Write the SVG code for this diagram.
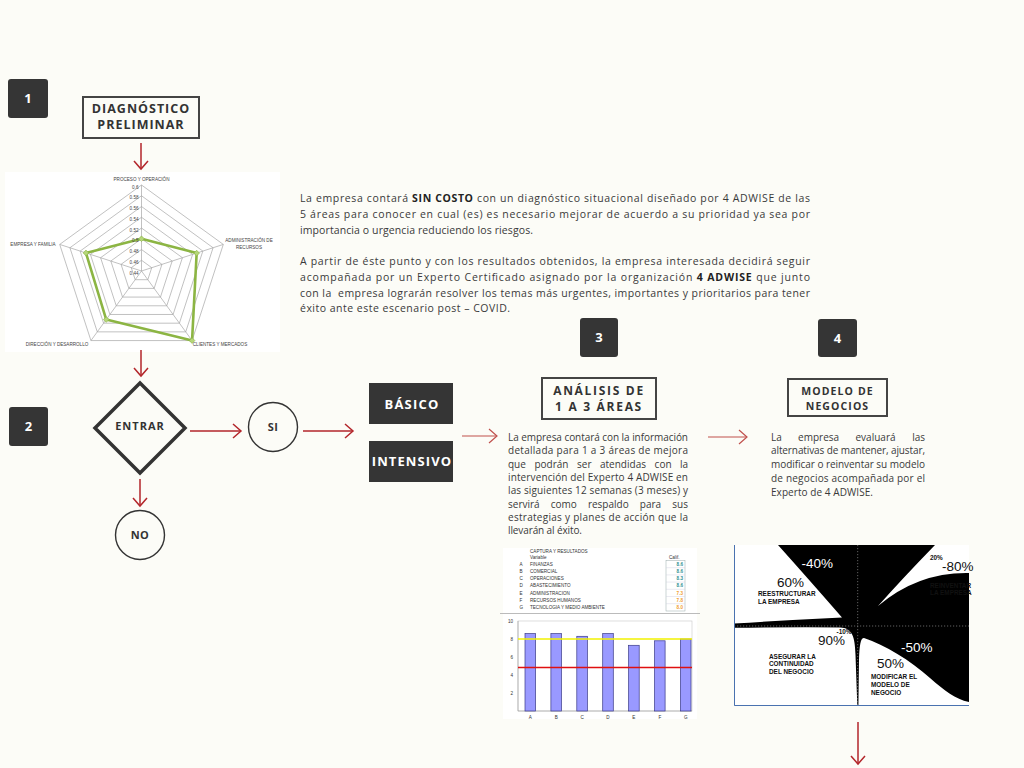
<svg xmlns="http://www.w3.org/2000/svg" xmlns:xlink="http://www.w3.org/1999/xlink" width="1024" height="768" viewBox="0 0 1024 768">
<style>
.num{fill:#353535}
.numt{font-family:"Open Sans",sans-serif;font-weight:700;font-size:13px;fill:#fff;text-anchor:middle}
.hbox{fill:none;stroke:#444;stroke-width:2}
.ht{font-family:"Open Sans",sans-serif;font-weight:700;fill:#333;text-anchor:middle}
.body{font-family:"Open Sans",sans-serif;fill:#3a3a3a}
.arr{fill:none;stroke:#b3262b;stroke-width:1.5}
.arr2{fill:none;stroke:#c0504d;stroke-width:1.2}
.grid{fill:none;stroke:#a6a6a6;stroke-width:0.7}
.rl{font-family:"Liberation Sans",Arial,sans-serif;font-size:4.6px;fill:#444}
.bc{font-family:"Liberation Sans",Arial,sans-serif;font-size:4.6px;fill:#333}
.qp{font-family:"Liberation Sans",Arial,sans-serif;font-size:13.5px}
.ql{font-family:"Liberation Sans",Arial,sans-serif;font-size:6.4px;font-weight:700;fill:#111}
</style>
<defs>
<marker id="ah" markerUnits="userSpaceOnUse" markerWidth="12" markerHeight="16" viewBox="0 0 12 16" refX="10" refY="8" orient="auto">
<path d="M2,1 L10,8 L2,15" fill="none" stroke="#b3262b" stroke-width="1.5"/>
</marker>
<marker id="ah2" markerUnits="userSpaceOnUse" markerWidth="12" markerHeight="16" viewBox="0 0 12 16" refX="10" refY="8" orient="auto">
<path d="M2,1 L10,8 L2,15" fill="none" stroke="#c0504d" stroke-width="1.2"/>
</marker>
<polygon id="pent" points="0,-86 81.79,-26.57 50.55,69.57 -50.55,69.57 -81.79,-26.57" fill="none" stroke="#a6a6a6" stroke-width="0.7" vector-effect="non-scaling-stroke"/>
</defs>
<rect width="1024" height="768" fill="#fcfcf7"/>

<g id="step1">
<rect class="num" x="8" y="79" width="40" height="39" rx="3"/>
<text class="numt" x="28" y="103">1</text>
</g>
<g id="diagnostico">
<rect class="hbox" x="83" y="97" width="116" height="41"/>
<text class="ht" x="141" y="113" font-size="12.5" letter-spacing="1">DIAGNÓSTICO</text>
<text class="ht" x="141" y="129" font-size="12.5" letter-spacing="1">PRELIMINAR</text>
</g>

<g id="radar">
<rect x="5" y="172" width="275" height="180" fill="#ffffff"/>
<g transform="translate(141.5 271)">
<use xlink:href="#pent" transform="scale(0.125)"/>
<use xlink:href="#pent" transform="scale(0.25)"/>
<use xlink:href="#pent" transform="scale(0.375)"/>
<use xlink:href="#pent" transform="scale(0.5)"/>
<use xlink:href="#pent" transform="scale(0.625)"/>
<use xlink:href="#pent" transform="scale(0.75)"/>
<use xlink:href="#pent" transform="scale(0.875)"/>
<use xlink:href="#pent"/>
<path class="grid" d="M0,0 L0,-86 M0,0 L81.79,-26.57 M0,0 L50.55,69.57 M0,0 L-50.55,69.57 M0,0 L-81.79,-26.57"/>
<polygon points="0,-32.25 55.16,-17.92 50.55,69.57 -35.27,48.54 -55.54,-18.05" fill="none" stroke="#8cb543" stroke-width="2.6" stroke-linejoin="round"/>
<g fill="#b5d67a" stroke="#8cb543" stroke-width="0.6">
<rect x="-2" y="-34.25" width="4" height="4" transform="rotate(45 0 -32.25)"/>
<rect x="53.16" y="-19.92" width="4" height="4" transform="rotate(45 55.16 -17.92)"/>
<rect x="48.55" y="67.57" width="4" height="4" transform="rotate(45 50.55 69.57)"/>
<rect x="-37.27" y="46.54" width="4" height="4" transform="rotate(45 -35.27 48.54)"/>
<rect x="-57.54" y="-20.05" width="4" height="4" transform="rotate(45 -55.54 -18.05)"/>
</g>
</g>
<g class="rl" text-anchor="end">
<text x="138.5" y="188.5">0.6</text>
<text x="138.5" y="199.2">0.58</text>
<text x="138.5" y="210">0.56</text>
<text x="138.5" y="220.7">0.54</text>
<text x="138.5" y="231.5">0.52</text>
<text x="138.5" y="242.2">0.5</text>
<text x="138.5" y="253">0.48</text>
<text x="138.5" y="263.7">0.46</text>
<text x="138.5" y="274.5">0.44</text>
</g>
<g class="rl" text-anchor="middle">
<text x="141.5" y="181">PROCESO Y OPERACIÓN</text>
<text x="249" y="242">ADMINISTRACIÓN DE</text>
<text x="249" y="249">RECURSOS</text>
<text x="33" y="246">EMPRESA Y FAMILIA</text>
<text x="220" y="346">CLIENTES Y MERCADOS</text>
<text x="57" y="346">DIRECCIÓN Y DESARROLLO</text>
</g>
</g>

<g id="intro-text" class="body" font-size="10.5">
<text x="300" y="202" textLength="510" lengthAdjust="spacing">La empresa contará <tspan font-weight="700" fill="#222">SIN COSTO</tspan> con un diagnóstico situacional diseñado por 4 ADWISE de las</text>
<text x="300" y="218" textLength="510" lengthAdjust="spacing">5 áreas para conocer en cual (es) es necesario mejorar de acuerdo a su prioridad ya sea por</text>
<text x="300" y="234" textLength="233" lengthAdjust="spacing">importancia o urgencia reduciendo los riesgos.</text>
<text x="300" y="265" textLength="510" lengthAdjust="spacing">A partir de éste punto y con los resultados obtenidos, la empresa interesada decidirá seguir</text>
<text x="300" y="281" textLength="510" lengthAdjust="spacing">acompañada por un Experto Certificado asignado por la organización <tspan font-weight="700" fill="#222">4 ADWISE</tspan> que junto</text>
<text x="300" y="297" textLength="510" lengthAdjust="spacing">con la&#160; empresa lograrán resolver los temas más urgentes, importantes y prioritarios para tener</text>
<text x="300" y="312" textLength="210" lengthAdjust="spacing">éxito ante este escenario post – COVID.</text>
</g>

<g id="step2">
<rect class="num" x="9" y="407" width="39" height="39" rx="3"/>
<text class="numt" x="28.5" y="431">2</text>
</g>
<g id="entrar">
<polygon points="140,383 185,428 140,473 95,428" fill="none" stroke="#333" stroke-width="3.5" stroke-linejoin="miter"/>
<text class="ht" x="140" y="430" font-size="11" letter-spacing="1">ENTRAR</text>
</g>
<g id="si">
<circle cx="273" cy="427" r="24.5" fill="none" stroke="#333" stroke-width="1.4"/>
<text class="ht" x="273" y="431" font-size="11" letter-spacing="0.5">SI</text>
</g>
<g id="no">
<circle cx="140" cy="535" r="24.5" fill="none" stroke="#333" stroke-width="1.4"/>
<text class="ht" x="140" y="539" font-size="11" letter-spacing="0.5">NO</text>
</g>
<g id="basico">
<rect class="num" x="369" y="383" width="84" height="41"/>
<text class="numt" x="412" y="408.5" font-size="12.5" letter-spacing="1.2">BÁSICO</text>
</g>
<g id="intensivo">
<rect class="num" x="369" y="441" width="84" height="41"/>
<text class="numt" x="412" y="466" font-size="12.5" letter-spacing="1.1">INTENSIVO</text>
</g>

<g id="step3">
<rect class="num" x="580" y="318" width="38" height="39" rx="3"/>
<text class="numt" x="599" y="342">3</text>
</g>
<g id="analisis">
<rect class="hbox" x="542" y="378" width="114" height="41"/>
<text class="ht" x="599" y="395" font-size="12" letter-spacing="1.7">ANÁLISIS DE</text>
<text class="ht" x="599" y="411" font-size="12" letter-spacing="1.7">1 A 3 ÁREAS</text>
</g>
<g id="analisis-text" class="body" font-size="10">
<text x="508" y="440.5" textLength="180" lengthAdjust="spacing">La empresa contará con la información</text>
<text x="508" y="454" textLength="180" lengthAdjust="spacing">detallada para 1 a 3 áreas de mejora</text>
<text y="467.5"><tspan x="508">que</tspan><tspan x="534.4">podrán</tspan><tspan x="577">ser</tspan><tspan x="600">atendidas</tspan><tspan x="654.6">con</tspan></text>
<text x="688" y="467.5" text-anchor="end">la</text>
<text x="508" y="480.5" textLength="180" lengthAdjust="spacing">intervención del Experto 4 ADWISE en</text>
<text x="508" y="494" textLength="180" lengthAdjust="spacing">las siguientes 12 semanas (3 meses) y</text>
<text y="507.5"><tspan x="508">servirá</tspan><tspan x="550.8">como</tspan><tspan x="587.9">respaldo</tspan><tspan x="639.8">para</tspan></text>
<text x="688" y="507.5" text-anchor="end">sus</text>
<text x="508" y="520.5" textLength="180" lengthAdjust="spacing">estrategias y planes de acción que la</text>
<text x="508" y="534" textLength="74" lengthAdjust="spacing">llevarán al éxito.</text>
</g>

<g id="step4">
<rect class="num" x="818" y="319" width="39" height="38" rx="3"/>
<text class="numt" x="837.5" y="342.5">4</text>
</g>
<g id="modelo">
<rect class="hbox" x="788" y="379" width="99" height="37"/>
<text class="ht" x="837.5" y="395" font-size="10.5" letter-spacing="1.1">MODELO DE</text>
<text class="ht" x="837.5" y="409.5" font-size="10.5" letter-spacing="1.1">NEGOCIOS</text>
</g>
<g id="modelo-text" class="body" font-size="10">
<text y="440.5"><tspan x="771">La</tspan><tspan x="798.1">empresa</tspan><tspan x="855.5">evaluará</tspan></text>
<text x="925" y="440.5" text-anchor="end">las</text>
<text x="771" y="454.3" textLength="154" lengthAdjust="spacing">alternativas de mantener, ajustar,</text>
<text x="771" y="468" textLength="154" lengthAdjust="spacing">modificar o reinventar su modelo</text>
<text x="771" y="481.8" textLength="154" lengthAdjust="spacing">de negocios acompañada por el</text>
<text x="771" y="495.5" textLength="102" lengthAdjust="spacing">Experto de 4 ADWISE.</text>
</g>

<g id="bar-chart">
<rect x="503" y="548" width="194" height="171" fill="#ffffff"/>
<text class="bc" x="530" y="553" fill="#4a4a9a">CAPTURA Y RESULTADOS</text>
<text class="bc" x="530" y="558.5" fill="#3b3bb0">Variable</text>
<text class="bc" x="669" y="558.5" fill="#3b3bb0">Calif.</text>
<rect x="666" y="560.5" width="19" height="50.5" fill="#fff" stroke="#9aa" stroke-width="0.5"/>
<path d="M666,567.7 H685 M666,574.9 H685 M666,582.1 H685 M666,589.3 H685 M666,596.5 H685 M666,603.7 H685" stroke="#ccd" stroke-width="0.4"/>
<g class="bc">
<text x="519.5" y="565.8">A</text><text x="530" y="565.8">FINANZAS</text>
<text x="519.5" y="573">B</text><text x="530" y="573">COMERCIAL</text>
<text x="519.5" y="580.2">C</text><text x="530" y="580.2">OPERACIONES</text>
<text x="519.5" y="587.4">D</text><text x="530" y="587.4">ABASTECIMIENTO</text>
<text x="519.5" y="594.6">E</text><text x="530" y="594.6">ADMINISTRACION</text>
<text x="519.5" y="601.8">F</text><text x="530" y="601.8">RECURSOS HUMANOS</text>
<text x="519.5" y="609">G</text><text x="530" y="609">TECNOLOGIA Y MEDIO AMBIENTE</text>
</g>
<g class="bc" text-anchor="end" font-weight="700">
<text x="683" y="565.8" fill="#2e8f8f">8.6</text>
<text x="683" y="573" fill="#2e8f8f">8.6</text>
<text x="683" y="580.2" fill="#2e8f8f">8.3</text>
<text x="683" y="587.4" fill="#2e8f8f">8.6</text>
<text x="683" y="594.6" fill="#f0a030">7.3</text>
<text x="683" y="601.8" fill="#f0a030">7.8</text>
<text x="683" y="609" fill="#f0a030">8.0</text>
</g>
<line x1="500" y1="613.5" x2="700" y2="613.5" stroke="#bbb" stroke-width="1"/>
<rect x="518" y="621" width="174" height="90" fill="none" stroke="#c8c8c8" stroke-width="0.6"/>
<path d="M518,621 V711 H692" fill="none" stroke="#999" stroke-width="0.6"/>
<g class="bc" text-anchor="end">
<text x="513" y="622.5">10</text>
<text x="513" y="640.5">8</text>
<text x="513" y="658.5">6</text>
<text x="513" y="676.5">4</text>
<text x="513" y="694.5">2</text>
</g>
<g fill="#9999ff" stroke="#3a3a88" stroke-width="0.7">
<rect x="525" y="633.6" width="10.6" height="77.4"/>
<rect x="550.9" y="633.6" width="10.6" height="77.4"/>
<rect x="576.8" y="636.3" width="10.6" height="74.7"/>
<rect x="602.7" y="633.6" width="10.6" height="77.4"/>
<rect x="628.6" y="645.3" width="10.6" height="65.7"/>
<rect x="654.5" y="640.8" width="10.6" height="70.2"/>
<rect x="680.4" y="639" width="10.6" height="72"/>
</g>
<line x1="518" y1="639" x2="692" y2="639" stroke="#f2f200" stroke-width="1.5"/>
<line x1="518" y1="667.5" x2="692" y2="667.5" stroke="#e01010" stroke-width="1.5"/>
<g class="bc" text-anchor="middle">
<text x="530.3" y="719">A</text><text x="556.2" y="719">B</text><text x="582.1" y="719">C</text><text x="608" y="719">D</text><text x="633.9" y="719">E</text><text x="659.8" y="719">F</text><text x="685.7" y="719">G</text>
</g>
</g>

<g id="quadrant-chart">
<rect x="734" y="545" width="235" height="160.5" fill="#000"/>
<g fill="#ffffff">
<path d="M734,545 L778,545 Q812,583 842,617.5 Q790,620 734,623.5 Z"/>
<path d="M878,606 Q902,579 935,545 L969,545 L969,573 Q918,572 878,606 Z"/>
<path d="M734,627.8 Q800,627 840,627.5 C852,628 855,636 855.5,655 L857.3,705.5 L734,705.5 Z"/>
<path d="M858.4,705.5 L859,660 C859.5,645 860.5,638 864,638 C885,645 910,660 930,678 C945,691 955,699 969,702 L969,705.5 Z"/>
</g>
<path d="M857.7,545 V705 M734,626 H969" stroke="#8a8a8a" stroke-width="0.7" stroke-dasharray="1.2,1.8" fill="none"/>
<path d="M734.5,545 V705.5 H969" fill="none" stroke="#4a72b0" stroke-width="1"/>
<text class="qp" x="801.5" y="568" fill="#fff">-40%</text>
<text class="qp" x="777" y="586.5" fill="#111">60%</text>
<text class="ql" x="758" y="596">REESTRUCTURAR</text>
<text class="ql" x="758" y="603.5">LA EMPRESA</text>
<text class="ql" x="930" y="560" font-weight="400" font-size="6.8">20%</text>
<text class="qp" x="942" y="571" fill="#111">-80%</text>
<text class="ql" x="930" y="587.5" fill="#fff">REINVENTAR</text>
<text class="ql" x="930" y="595" fill="#fff">LA EMPRESA</text>
<text class="ql" x="836.5" y="634" font-weight="400" font-size="6.8">-10%</text>
<text class="qp" x="818" y="645" fill="#111">90%</text>
<text class="ql" x="769" y="658.5">ASEGURAR LA</text>
<text class="ql" x="769" y="666">CONTINUIDAD</text>
<text class="ql" x="769" y="673.7">DEL NEGOCIO</text>
<text class="qp" x="901" y="652.3" fill="#fff">-50%</text>
<text class="qp" x="877" y="668.3" fill="#111">50%</text>
<text class="ql" x="871" y="678.5">MODIFICAR EL</text>
<text class="ql" x="871" y="686.5">MODELO DE</text>
<text class="ql" x="871" y="694.5">NEGOCIO</text>
</g>

<g id="connectors">
<line class="arr" x1="141" y1="143" x2="141" y2="169" marker-end="url(#ah)"/>
<line class="arr" x1="141" y1="350" x2="141" y2="376" marker-end="url(#ah)"/>
<line class="arr" x1="190" y1="431" x2="241" y2="431" marker-end="url(#ah)"/>
<line class="arr" x1="303" y1="431" x2="353" y2="431" marker-end="url(#ah)"/>
<line class="arr" x1="140" y1="479" x2="140" y2="506" marker-end="url(#ah)"/>
<line class="arr2" x1="462" y1="436" x2="497" y2="436" marker-end="url(#ah2)"/>
<line class="arr2" x1="708" y1="437" x2="747" y2="437" marker-end="url(#ah2)"/>
<line class="arr" x1="858" y1="722" x2="858" y2="764" marker-end="url(#ah)"/>
</g>
</svg>
